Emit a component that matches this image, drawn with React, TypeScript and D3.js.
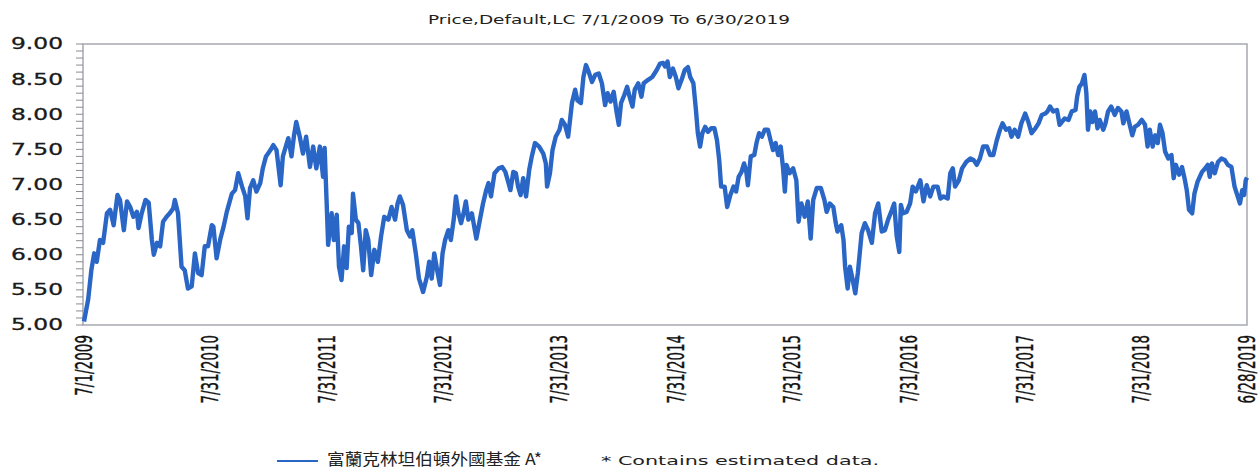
import React, { useEffect, useRef } from 'react';
import * as d3 from 'd3';

const title = 'Price,Default,LC 7/1/2009 To 6/30/2019';
const seriesName = '富蘭克林坦伯頓外國基金 A*';
const footnote = '*  Contains estimated data.';

const dates = [
  '2009-07-01', '2009-07-14', '2009-07-24', '2009-08-02', '2009-08-10', '2009-08-20', '2009-08-30', '2009-09-11',
  '2009-09-21', '2009-10-02', '2009-10-14', '2009-10-22', '2009-11-03', '2009-11-13', '2009-11-23', '2009-12-03',
  '2009-12-14', '2009-12-19', '2009-12-29', '2010-01-10', '2010-01-20', '2010-01-30', '2010-02-05', '2010-02-15',
  '2010-02-25', '2010-03-06', '2010-03-17', '2010-03-27', '2010-04-07', '2010-04-12', '2010-04-22', '2010-05-03',
  '2010-05-13', '2010-05-23', '2010-06-04', '2010-06-14', '2010-06-24', '2010-07-05', '2010-07-15', '2010-07-25',
  '2010-08-06', '2010-08-11', '2010-08-21', '2010-09-02', '2010-09-12', '2010-09-22', '2010-10-08', '2010-10-18',
  '2010-10-28', '2010-11-09', '2010-11-19', '2010-11-26', '2010-12-04', '2010-12-14', '2010-12-24', '2011-01-05',
  '2011-01-13', '2011-01-23', '2011-02-06', '2011-02-15', '2011-02-25', '2011-03-10', '2011-03-17', '2011-04-03',
  '2011-04-13', '2011-04-21', '2011-04-28', '2011-05-09', '2011-05-19', '2011-05-29', '2011-06-10', '2011-06-20',
  '2011-06-30', '2011-07-11', '2011-07-21', '2011-07-26', '2011-08-01', '2011-08-06', '2011-08-17', '2011-08-24',
  '2011-09-02', '2011-09-09', '2011-09-17', '2011-09-25', '2011-10-03', '2011-10-10', '2011-10-19', '2011-10-23',
  '2011-11-01', '2011-11-09', '2011-11-17', '2011-11-24', '2011-12-02', '2011-12-10', '2011-12-19', '2011-12-29',
  '2012-01-09', '2012-01-19', '2012-01-29', '2012-02-11', '2012-02-21', '2012-03-03', '2012-03-11', '2012-03-18',
  '2012-03-28', '2012-04-09', '2012-04-19', '2012-04-26', '2012-05-07', '2012-05-17', '2012-05-30', '2012-06-11',
  '2012-06-18', '2012-06-26', '2012-07-04', '2012-07-13', '2012-07-22', '2012-07-30', '2012-08-07', '2012-08-17',
  '2012-08-25', '2012-09-03', '2012-09-10', '2012-09-18', '2012-09-26', '2012-10-04', '2012-10-11', '2012-10-19',
  '2012-10-30', '2012-11-13', '2012-11-23', '2012-12-04', '2012-12-14', '2012-12-21', '2012-12-29', '2013-01-09',
  '2013-01-22', '2013-02-02', '2013-02-12', '2013-02-22', '2013-02-28', '2013-03-09', '2013-03-17', '2013-03-24',
  '2013-04-01', '2013-04-09', '2013-04-18', '2013-04-28', '2013-05-06', '2013-05-16', '2013-05-29', '2013-06-11',
  '2013-06-19', '2013-06-23', '2013-07-02', '2013-07-10', '2013-07-20', '2013-08-01', '2013-08-08', '2013-08-18',
  '2013-08-28', '2013-09-09', '2013-09-19', '2013-09-26', '2013-10-07', '2013-10-15', '2013-10-23', '2013-10-31',
  '2013-11-11', '2013-11-21', '2013-12-02', '2013-12-12', '2013-12-22', '2013-12-30', '2014-01-08', '2014-01-18',
  '2014-01-26', '2014-02-03', '2014-02-10', '2014-02-20', '2014-03-01', '2014-03-10', '2014-03-18', '2014-03-25',
  '2014-04-05', '2014-04-15', '2014-04-22', '2014-05-06', '2014-05-19', '2014-06-02', '2014-06-12', '2014-06-22',
  '2014-06-28', '2014-07-06', '2014-07-13', '2014-07-23', '2014-08-01', '2014-08-09', '2014-08-19', '2014-08-29',
  '2014-09-08', '2014-09-15', '2014-09-25', '2014-10-03', '2014-10-09', '2014-10-16', '2014-10-23', '2014-11-01',
  '2014-11-10', '2014-11-20', '2014-11-30', '2014-12-08', '2014-12-15', '2014-12-21', '2015-01-01', '2015-01-09',
  '2015-01-19', '2015-01-29', '2015-02-06', '2015-02-14', '2015-02-23', '2015-03-03', '2015-03-10', '2015-03-15',
  '2015-03-24', '2015-04-04', '2015-04-11', '2015-04-19', '2015-04-28', '2015-05-07', '2015-05-17', '2015-05-25',
  '2015-06-02', '2015-06-10', '2015-06-18', '2015-06-26', '2015-07-03', '2015-07-09', '2015-07-14', '2015-07-24',
  '2015-08-04', '2015-08-14', '2015-08-21', '2015-08-30', '2015-09-09', '2015-09-19', '2015-09-28', '2015-10-06',
  '2015-10-17', '2015-10-30', '2015-11-10', '2015-11-17', '2015-11-27', '2015-12-08', '2015-12-15', '2015-12-21',
  '2016-01-02', '2016-01-09', '2016-01-14', '2016-01-22', '2016-01-29', '2016-02-07', '2016-02-15', '2016-02-23',
  '2016-03-06', '2016-03-16', '2016-03-26', '2016-04-07', '2016-04-17', '2016-04-27', '2016-05-08', '2016-05-18',
  '2016-05-28', '2016-06-09', '2016-06-16', '2016-06-24', '2016-07-02', '2016-07-07', '2016-07-14', '2016-07-25',
  '2016-08-05', '2016-08-13', '2016-08-23', '2016-09-06', '2016-09-16', '2016-09-26', '2016-10-07', '2016-10-17',
  '2016-10-30', '2016-11-08', '2016-11-18', '2016-12-01', '2016-12-09', '2016-12-17', '2016-12-24', '2017-01-05',
  '2017-01-15', '2017-01-28', '2017-02-10', '2017-02-20', '2017-03-02', '2017-03-12', '2017-03-22', '2017-04-03',
  '2017-04-13', '2017-04-23', '2017-05-04', '2017-05-14', '2017-05-22', '2017-06-02', '2017-06-12', '2017-06-19',
  '2017-06-29', '2017-07-10', '2017-07-20', '2017-08-01', '2017-08-11', '2017-08-21', '2017-09-02', '2017-09-12',
  '2017-09-22', '2017-10-03', '2017-10-10', '2017-10-18', '2017-10-28', '2017-11-09', '2017-11-17', '2017-12-03',
  '2017-12-15', '2017-12-25', '2018-01-06', '2018-01-11', '2018-01-18', '2018-01-26', '2018-02-03', '2018-02-09',
  '2018-02-14', '2018-02-21', '2018-02-28', '2018-03-08', '2018-03-16', '2018-03-23', '2018-04-03', '2018-04-10',
  '2018-04-18', '2018-04-28', '2018-05-09', '2018-05-19', '2018-05-30', '2018-06-05', '2018-06-15', '2018-06-25',
  '2018-07-03', '2018-07-11', '2018-07-21', '2018-08-02', '2018-08-12', '2018-08-20', '2018-08-27', '2018-09-05',
  '2018-09-13', '2018-09-21', '2018-09-28', '2018-10-06', '2018-10-14', '2018-10-24', '2018-11-03', '2018-11-10',
  '2018-11-17', '2018-11-27', '2018-12-06', '2018-12-14', '2018-12-21', '2018-12-28', '2019-01-07', '2019-01-14',
  '2019-01-24', '2019-02-07', '2019-02-17', '2019-02-25', '2019-03-03', '2019-03-10', '2019-03-19', '2019-03-29',
  '2019-04-09', '2019-04-19', '2019-04-29', '2019-05-10', '2019-05-20', '2019-06-01', '2019-06-06', '2019-06-13',
  '2019-06-19', '2019-06-24', '2019-06-28'
];

const prices = [
  5.05, 5.36, 5.78, 6.02, 5.90, 6.21, 6.17, 6.59,
  6.64, 6.42, 6.85, 6.78, 6.35, 6.76, 6.68, 6.54,
  6.61, 6.38, 6.59, 6.78, 6.74, 6.21, 6.00, 6.17,
  6.12, 6.47, 6.54, 6.59, 6.66, 6.78, 6.59, 5.83,
  5.78, 5.52, 5.55, 6.02, 5.74, 5.71, 6.12, 6.12,
  6.42, 6.40, 5.95, 6.23, 6.40, 6.61, 6.87, 6.92,
  7.16, 6.97, 6.83, 6.52, 6.95, 7.06, 6.90, 7.02,
  7.23, 7.40, 7.49, 7.56, 7.49, 6.99, 7.40, 7.66,
  7.40, 7.70, 7.89, 7.68, 7.44, 7.68, 7.25, 7.54,
  7.23, 7.54, 7.11, 7.52, 6.78, 6.14, 6.59, 6.21,
  6.57, 5.83, 5.64, 6.12, 5.81, 6.40, 6.31, 6.87,
  6.50, 6.45, 6.12, 5.78, 6.35, 6.21, 5.71, 6.07,
  5.90, 6.26, 6.54, 6.50, 6.68, 6.50, 6.73, 6.83,
  6.71, 6.35, 6.26, 6.35, 6.02, 5.66, 5.47, 5.69,
  5.90, 5.66, 6.02, 5.78, 5.57, 6.02, 6.21, 6.35,
  6.21, 6.50, 6.83, 6.59, 6.45, 6.59, 6.76, 6.50,
  6.59, 6.23, 6.47, 6.73, 6.92, 7.02, 6.83, 7.16,
  7.23, 7.25, 7.18, 7.02, 6.92, 7.18, 7.16, 6.97,
  6.85, 7.09, 6.83, 7.21, 7.40, 7.59, 7.54, 7.44,
  7.30, 6.97, 7.16, 7.49, 7.68, 7.78, 7.92, 7.85,
  7.68, 8.16, 8.35, 8.20, 8.16, 8.53, 8.70, 8.61,
  8.46, 8.56, 8.58, 8.44, 8.13, 8.30, 8.18, 8.32,
  8.06, 7.85, 8.16, 8.27, 8.39, 8.23, 8.11, 8.35,
  8.44, 8.25, 8.44, 8.49, 8.53, 8.63, 8.72, 8.73,
  8.68, 8.75, 8.53, 8.65, 8.53, 8.37, 8.49, 8.63,
  8.67, 8.53, 8.44, 8.06, 7.73, 7.54, 7.73, 7.82,
  7.75, 7.80, 7.80, 7.63, 7.35, 6.97, 6.97, 6.68,
  6.85, 6.97, 6.90, 7.11, 7.18, 7.30, 7.18, 6.99,
  7.40, 7.42, 7.59, 7.73, 7.68, 7.78, 7.78, 7.63,
  7.49, 7.59, 7.42, 7.54, 7.25, 6.90, 7.28, 7.16,
  7.23, 7.06, 6.47, 6.73, 6.54, 6.76, 6.23, 6.78,
  6.95, 6.95, 6.78, 6.61, 6.73, 6.68, 6.47, 6.33,
  6.42, 6.21, 5.83, 5.52, 5.83, 5.64, 5.45, 5.74,
  6.31, 6.45, 6.35, 6.17, 6.59, 6.73, 6.33, 6.35,
  6.50, 6.64, 6.73, 6.26, 6.04, 6.71, 6.59, 6.61,
  6.73, 6.97, 6.90, 7.06, 6.76, 6.99, 6.83, 6.97,
  6.97, 6.80, 6.83, 6.80, 7.16, 7.23, 6.97, 7.06,
  7.23, 7.32, 7.37, 7.35, 7.28, 7.37, 7.54, 7.54,
  7.42, 7.42, 7.63, 7.78, 7.87, 7.78, 7.80, 7.68,
  7.78, 7.68, 7.87, 8.01, 7.89, 7.73, 7.80, 7.87,
  7.99, 8.01, 8.04, 8.11, 8.04, 8.06, 7.85, 7.94,
  7.92, 8.04, 8.06, 8.25, 8.39, 8.44, 8.56, 8.30,
  7.78, 8.04, 7.89, 8.04, 7.80, 7.92, 7.78, 7.87,
  8.04, 8.11, 7.99, 8.09, 8.04, 7.87, 8.04, 7.85,
  7.70, 7.82, 7.85, 7.92, 7.85, 7.54, 7.78, 7.54,
  7.70, 7.59, 7.85, 7.73, 7.47, 7.37, 7.42, 7.09,
  7.28, 7.14, 7.25, 7.09, 6.92, 6.64, 6.59, 6.87,
  7.04, 7.18, 7.23, 7.28, 7.11, 7.30, 7.16, 7.32,
  7.37, 7.35, 7.28, 7.25, 6.97, 6.80, 6.73, 6.92,
  6.85, 7.06, 7.10
];

const xTickLabels = ['7/1/2009', '7/31/2010', '7/31/2011', '7/31/2012', '7/31/2013', '7/31/2014',
  '7/31/2015', '7/31/2016', '7/31/2017', '7/31/2018', '6/28/2019'];

const W = 1260;
const H = 470;
const margin = { left: 83, right: 13, top: 44, bottom: 145 };

export default function App() {
  const ref = useRef<SVGSVGElement>(null);

  useEffect(() => {
    const svg = d3.select(ref.current);
    svg.selectAll('*').remove();

    const parse = d3.timeParse('%Y-%m-%d');
    const tickParse = d3.timeParse('%m/%d/%Y');
    const data = dates.map((d, i) => ({ date: parse(d) as Date, value: prices[i] }));

    const x = d3.scaleTime()
      .domain([parse('2009-07-01') as Date, parse('2019-06-28') as Date])
      .range([margin.left + 1, W - margin.right]);
    const y = d3.scaleLinear()
      .domain([5, 9])
      .range([H - margin.bottom, margin.top]);

    // plot frame
    svg.append('rect')
      .attr('x', margin.left)
      .attr('y', margin.top)
      .attr('width', W - margin.left - margin.right)
      .attr('height', H - margin.top - margin.bottom)
      .attr('fill', 'none')
      .attr('stroke', '#a7a9b0')
      .attr('stroke-width', 1.5);

    // y minor ticks every 0.1
    const minor = d3.range(50, 91).map(v => v / 10);
    svg.append('g')
      .selectAll('line')
      .data(minor)
      .enter()
      .append('line')
      .attr('x1', margin.left - 7)
      .attr('x2', margin.left)
      .attr('y1', d => y(d))
      .attr('y2', d => y(d))
      .attr('stroke', '#8a8c94')
      .attr('stroke-width', 1);

    // y labels
    svg.append('g')
      .selectAll('text')
      .data(y.ticks(8))
      .enter()
      .append('text')
      .attr('x', 63)
      .attr('y', d => y(d))
      .attr('dy', '0.36em')
      .attr('text-anchor', 'end')
      .attr('textLength', 52)
      .attr('lengthAdjust', 'spacingAndGlyphs')
      .attr('font-family', 'DejaVu Sans, Verdana, sans-serif')
      .attr('font-size', 15)
      .attr('fill', '#1a1a1a')
      .attr('stroke', '#1a1a1a')
      .attr('stroke-width', 0.3)
      .text(d => d3.format('.2f')(d));

    // x labels, rotated and squeezed to the narrow look of the original
    svg.append('g')
      .selectAll('text')
      .data(xTickLabels)
      .enter()
      .append('text')
      .attr('transform', d => `translate(${Math.min(x(tickParse(d) as Date), W - 12)}, ${H - margin.bottom + 10}) rotate(-90)`)
      .attr('dy', '0.36em')
      .attr('text-anchor', 'end')
      .attr('textLength', d => d.length * 7.6)
      .attr('lengthAdjust', 'spacingAndGlyphs')
      .attr('font-family', 'Liberation Sans Narrow, DejaVu Sans Condensed, sans-serif')
      .attr('font-size', 23)
      .attr('fill', '#111')
      .attr('stroke', '#111')
      .attr('stroke-width', 0.4)
      .text(d => d);

    // price line
    const line = d3.line<{ date: Date; value: number }>()
      .x(d => x(d.date))
      .y(d => y(d.value));

    svg.append('path')
      .datum(data)
      .attr('d', line)
      .attr('fill', 'none')
      .attr('stroke', '#2a66c6')
      .attr('stroke-width', 4.4)
      .attr('stroke-linejoin', 'round');

    // title
    svg.append('text')
      .attr('x', 428)
      .attr('y', 24)
      .attr('textLength', 362)
      .attr('lengthAdjust', 'spacingAndGlyphs')
      .attr('font-family', 'DejaVu Sans, Verdana, sans-serif')
      .attr('font-size', 12)
      .attr('fill', '#222')
      .text(title);

    // legend
    svg.append('line')
      .attr('x1', 277)
      .attr('x2', 318)
      .attr('y1', 461)
      .attr('y2', 461)
      .attr('stroke', '#2a66c6')
      .attr('stroke-width', 2);

    svg.append('text')
      .attr('x', 327)
      .attr('y', 465)
      .attr('textLength', 215)
      .attr('lengthAdjust', 'spacingAndGlyphs')
      .attr('font-family', 'Noto Sans CJK TC, sans-serif')
      .attr('font-size', 16)
      .attr('fill', '#222')
      .text(seriesName);

    svg.append('text')
      .attr('x', 601)
      .attr('y', 465)
      .attr('textLength', 278)
      .attr('lengthAdjust', 'spacingAndGlyphs')
      .attr('font-family', 'DejaVu Sans, Verdana, sans-serif')
      .attr('font-size', 13)
      .attr('fill', '#222')
      .text(footnote);
  }, []);

  return (
    <svg
      ref={ref}
      width={W}
      height={H}
      style={{ position: 'absolute', left: 0, top: 0, background: '#fff' }}
    />
  );
}
